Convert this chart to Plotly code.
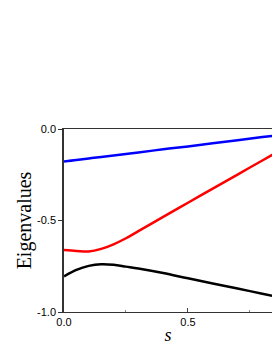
import plotly.graph_objects as go

s_vals = [0.0, 0.05, 0.1, 0.15, 0.2, 0.25, 0.3, 0.4, 0.5, 0.6, 0.7, 0.8, 0.9]
blue_vals = [-0.178, -0.170, -0.161, -0.153, -0.145, -0.136, -0.128, -0.111, -0.095, -0.078, -0.061, -0.044, -0.028]
red_vals = [-0.661, -0.666, -0.669, -0.655, -0.630, -0.597, -0.558, -0.480, -0.403, -0.326, -0.249, -0.172, -0.095]
black_vals = [-0.805, -0.770, -0.748, -0.739, -0.742, -0.752, -0.762, -0.787, -0.816, -0.844, -0.872, -0.900, -0.928]

x_tick_vals = [0.0, 0.5, 1.0]
x_tick_text = ["0.0", "0.5", "1.0"]
y_tick_vals = [0.0, -0.5, -1.0]
y_tick_text = ["0.0", "-0.5", "-1.0"]

fig = go.Figure()
for vals, col in [(blue_vals, "#0000ff"), (red_vals, "#ff0000"), (black_vals, "#000000")]:
    fig.add_trace(go.Scatter(x=s_vals, y=vals, mode="lines",
                             line=dict(color=col, width=2.5, shape="spline"),
                             showlegend=False, hoverinfo="skip"))

fig.update_layout(
    width=272, height=352,
    margin=dict(l=64, r=0, t=129, b=40),
    paper_bgcolor="white", plot_bgcolor="white",
)
fig.update_xaxes(
    range=[0, 0.839], tickvals=x_tick_vals, ticktext=x_tick_text,
    ticks="inside", ticklen=4, tickcolor="#444", tickwidth=1,
    minor=dict(tickvals=[0.25, 0.75], ticks="inside", ticklen=2, tickcolor="#888"),
    showline=True, linecolor="#333", linewidth=1, mirror=True,
    showgrid=False, zeroline=False,
    tickfont=dict(family="Liberation Sans, Arial", size=11, color="black"),
    title=dict(text="<i>s</i>", font=dict(family="Liberation Serif", size=18, color="black"), standoff=1),
)
fig.update_yaxes(
    range=[-1, 0], tickvals=y_tick_vals, ticktext=y_tick_text,
    ticks="outside", ticklen=4, tickcolor="#333", tickwidth=1,
    showline=True, linecolor="#333", linewidth=1.5, mirror=False,
    showgrid=False, zeroline=False,
    tickfont=dict(family="Liberation Sans, Arial", size=11, color="black"),
    title=dict(text="Eigenvalues", font=dict(family="Liberation Serif", size=20, color="black"), standoff=0),
)
fig.write_html(
    "out.html",
    config={"displayModeBar": False},
    post_script="document.body.style.margin='0';document.body.style.overflow='hidden';",
)
